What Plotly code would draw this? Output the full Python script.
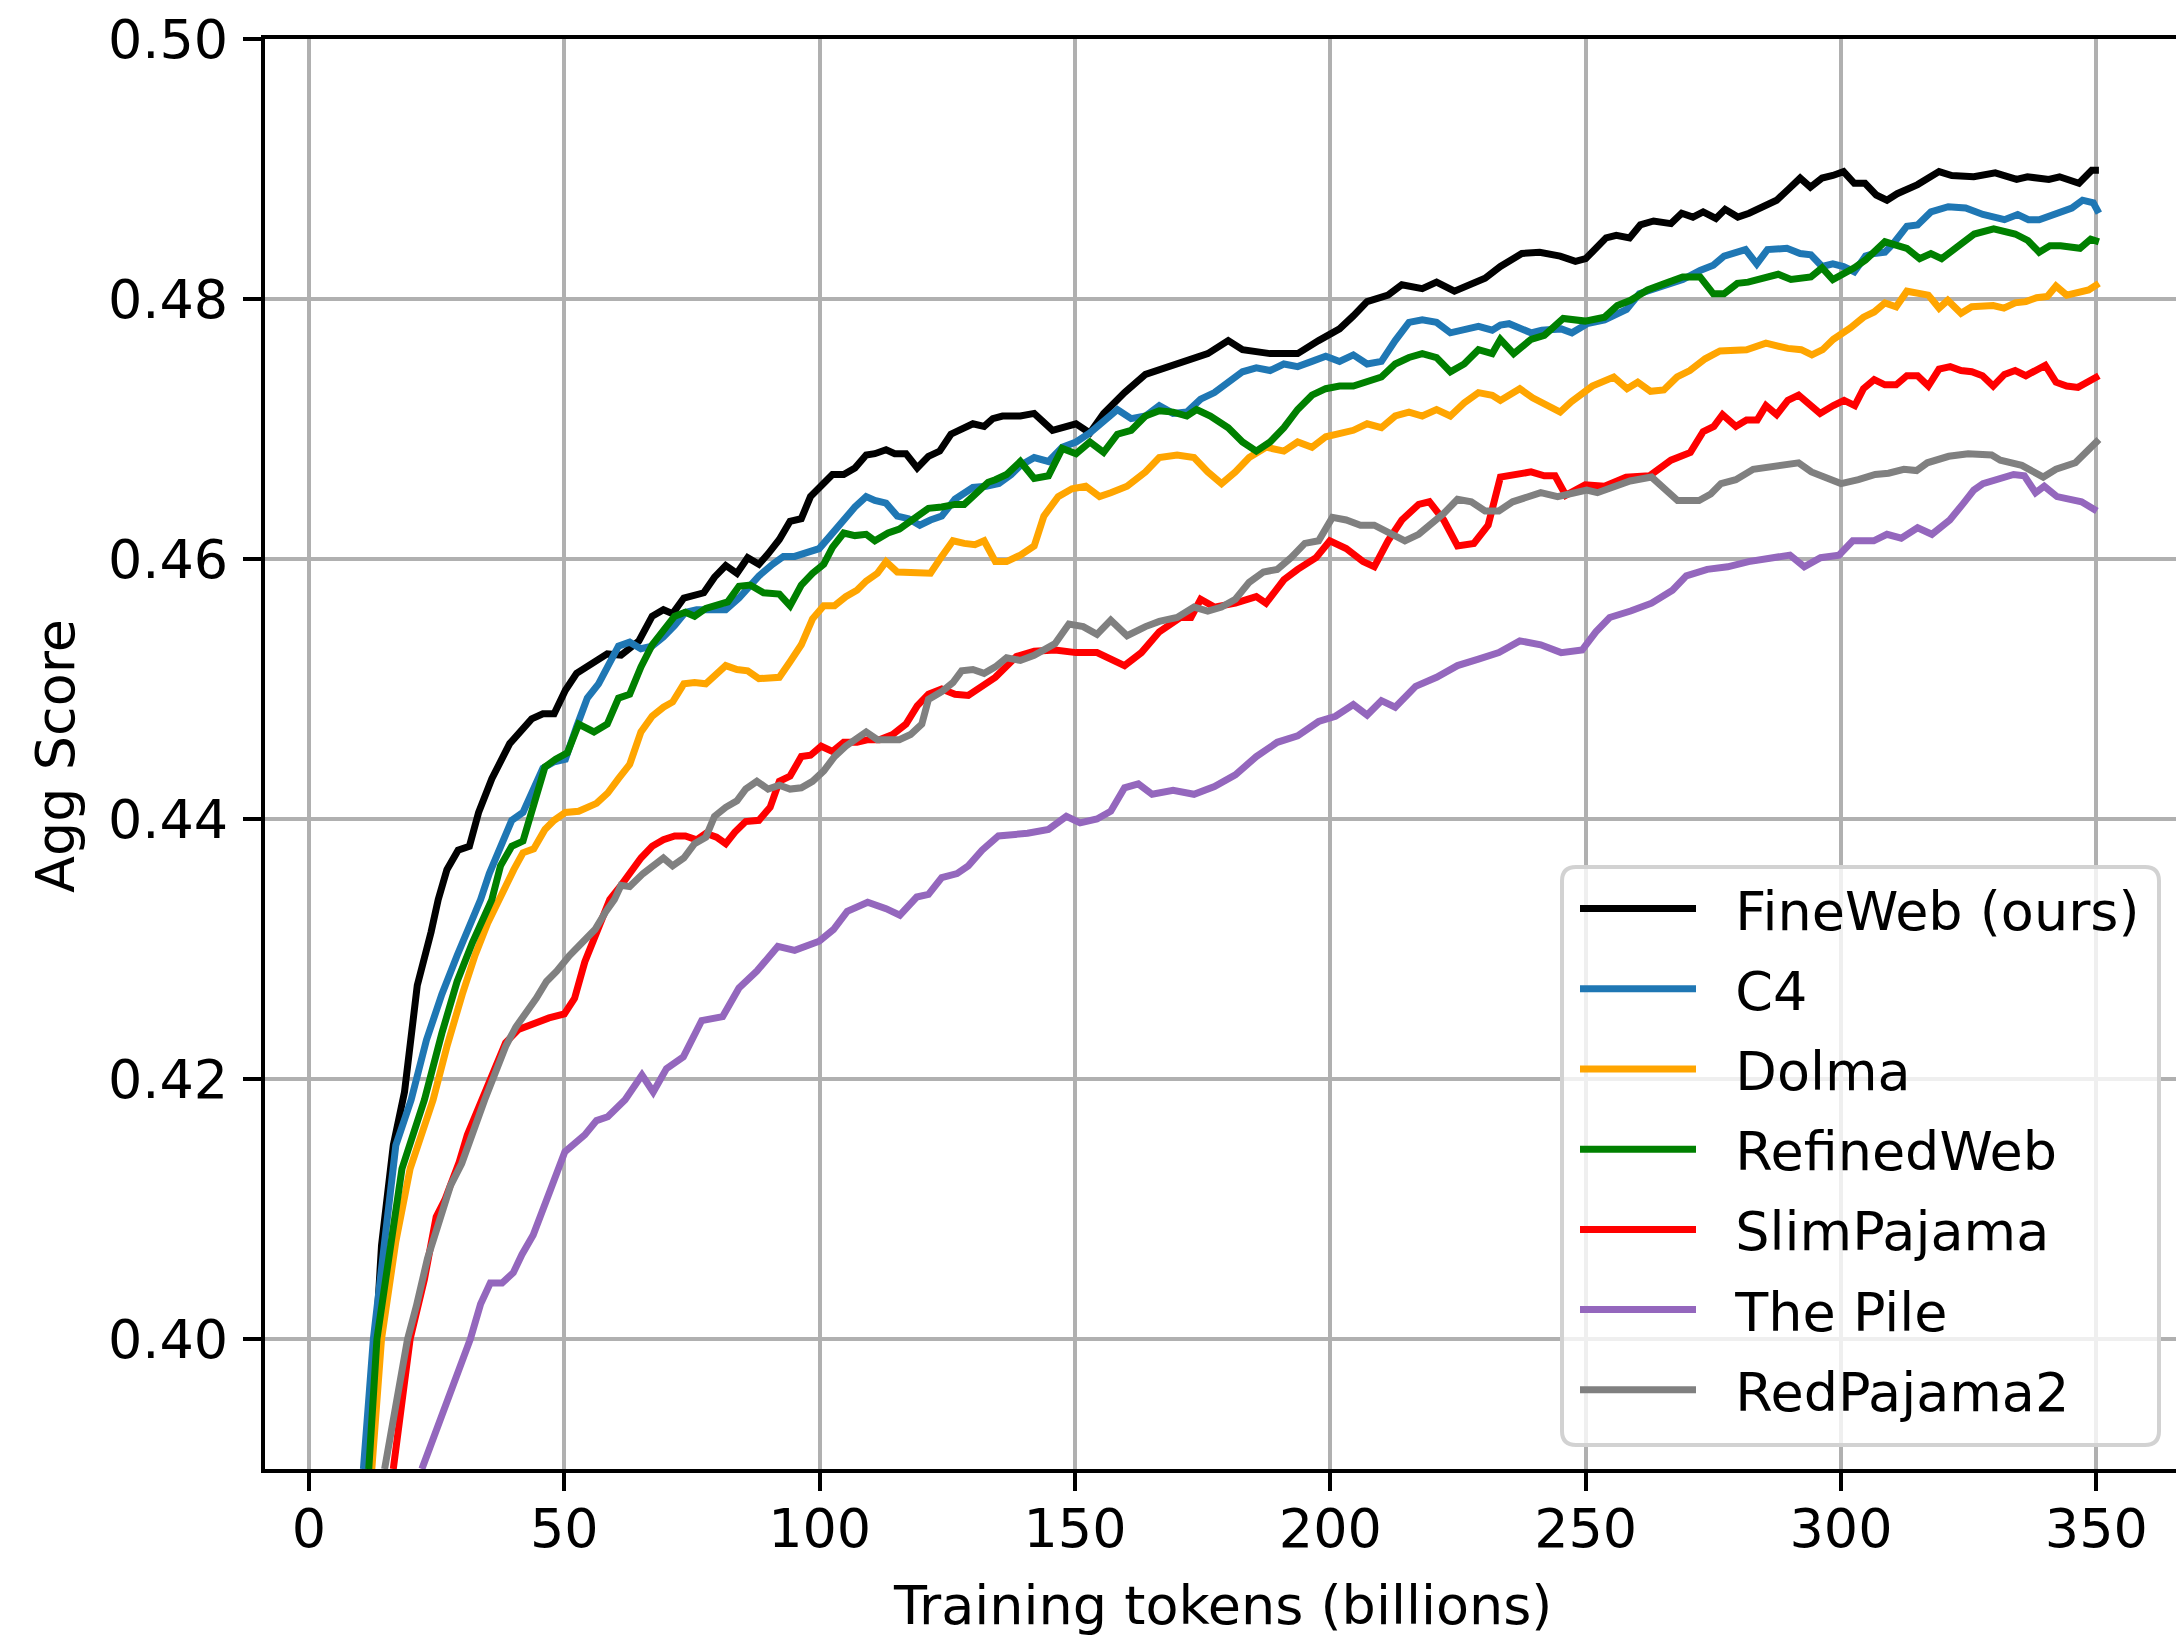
import plotly.graph_objects as go

# ---------------- data ----------------
FW_X = [11.0, 13.1, 14.2, 16.5, 18.7, 21.2, 23.9, 25.3, 27.0, 29.2, 31.4, 33.2, 35.8, 39.3, 43.6, 45.8, 48.0, 50.2, 52.4, 55.8,
        58.4, 61.1, 64.6, 67.2, 69.4, 71.2, 73.4, 77.3, 79.4, 81.6, 83.8, 85.9, 88.1, 89.9, 92.1, 94.2, 96.4, 98.2, 100.3, 102.5,
        104.7, 106.9, 109.1, 110.8, 113.0, 114.7, 116.9, 119.1, 121.3, 123.5, 125.7, 128.3, 130.0, 132.2, 133.9, 135.8, 139.3, 142.0, 145.6, 150.2,
        152.9, 155.6, 159.7, 163.8, 167.8, 171.9, 176.0, 180.0, 182.8, 188.2, 193.6, 197.7, 201.8, 204.5, 207.2, 211.3, 214.0, 218.0, 220.8, 224.3,
        227.6, 230.3, 233.3, 237.5, 241.0, 245.0, 248.0, 250.0, 254.0, 256.0, 258.6, 260.7, 263.3, 266.7, 268.8, 271.0, 273.0, 275.5, 277.3, 279.8,
        282.0, 284.5, 287.4, 289.6, 292.0, 294.0, 296.3, 298.4, 300.5, 302.6, 304.7, 306.9, 309.0, 311.0, 315.0, 319.2, 321.7, 326.0, 330.2, 334.4,
        336.5, 340.7, 342.8, 346.6, 349.1, 350.5]
FW_Y = [0.3900, 0.4000, 0.4072, 0.4149, 0.4190, 0.4272, 0.4313, 0.4338, 0.4361, 0.4376, 0.4379, 0.4405, 0.4431, 0.4458, 0.4477, 0.4481, 0.4481, 0.4499, 0.4512, 0.4520,
        0.4527, 0.4526, 0.4537, 0.4556, 0.4561, 0.4558, 0.4570, 0.4574, 0.4586, 0.4595, 0.4589, 0.4601, 0.4596, 0.4604, 0.4615, 0.4629, 0.4631, 0.4648, 0.4656, 0.4665,
        0.4665, 0.4670, 0.4680, 0.4681, 0.4684, 0.4681, 0.4681, 0.4670, 0.4679, 0.4683, 0.4696, 0.4701, 0.4704, 0.4702, 0.4708, 0.4710, 0.4710, 0.4712, 0.4699, 0.4704,
        0.4697, 0.4712, 0.4728, 0.4742, 0.4747, 0.4752, 0.4758, 0.4768, 0.4761, 0.4758, 0.4758, 0.4768, 0.4777, 0.4787, 0.4798, 0.4803, 0.4811, 0.4808, 0.4813, 0.4806,
        0.4811, 0.4816, 0.4825, 0.4835, 0.4836, 0.4833, 0.4829, 0.4831, 0.4847, 0.4849, 0.4847, 0.4857, 0.4860, 0.4858, 0.4866, 0.4863, 0.4867, 0.4862, 0.4869, 0.4863,
        0.4866, 0.4871, 0.4876, 0.4884, 0.4893, 0.4886, 0.4893, 0.4895, 0.4898, 0.4889, 0.4889, 0.4880, 0.4876, 0.4881, 0.4888, 0.4898, 0.4895, 0.4894, 0.4897, 0.4892,
        0.4894, 0.4892, 0.4894, 0.4889, 0.4899, 0.4899]

C4_X = [10.65, 12.6, 17.0, 20.0, 23.0, 26.0, 29.0, 31.5, 33.6, 35.3, 37.1, 39.7, 41.9, 44.0, 45.8, 48.0, 50.2, 52.4, 54.5, 56.7,
        58.9, 60.6, 62.8, 65.0, 67.2, 69.4, 71.6, 73.7, 75.9, 77.7, 79.8, 81.6, 84.2, 86.4, 88.1, 90.8, 92.9, 95.1, 97.7, 99.9,
        102.1, 104.7, 106.9, 109.1, 110.8, 113.0, 115.2, 117.4, 119.6, 121.7, 123.9, 126.5, 130.0, 132.6, 135.1, 137.5, 139.3, 142.0, 144.8, 147.5,
        150.2, 152.9, 155.6, 158.3, 161.0, 163.8, 166.5, 169.2, 171.9, 174.6, 177.3, 180.0, 182.8, 185.5, 188.2, 190.9, 193.6, 196.4, 199.1, 201.8,
        204.5, 207.2, 210.0, 212.7, 215.4, 218.0, 220.8, 223.5, 226.2, 229.0, 231.7, 233.3, 235.0, 239.3, 241.4, 245.2, 247.3, 250.3, 253.7, 258.0,
        260.5, 263.1, 266.5, 269.0, 272.4, 275.0, 277.1, 281.3, 283.5, 285.6, 289.4, 292.0, 294.1, 296.3, 298.4, 300.5, 302.6, 304.8, 306.5, 308.6,
        310.3, 312.9, 315.0, 317.6, 321.0, 324.4, 327.8, 330.3, 332.0, 334.6, 336.7, 338.8, 341.4, 343.9, 345.2, 347.3, 349.4, 350.5]
C4_Y = [0.3900, 0.4000, 0.4149, 0.4184, 0.4230, 0.4265, 0.4295, 0.4318, 0.4338, 0.4358, 0.4374, 0.4399, 0.4405, 0.4424, 0.4439, 0.4444, 0.4446, 0.4471, 0.4493, 0.4504,
        0.4520, 0.4533, 0.4536, 0.4531, 0.4533, 0.4540, 0.4549, 0.4559, 0.4561, 0.4561, 0.4562, 0.4561, 0.4570, 0.4580, 0.4587, 0.4596, 0.4602, 0.4602, 0.4605, 0.4608,
        0.4618, 0.4631, 0.4640, 0.4648, 0.4645, 0.4643, 0.4633, 0.4631, 0.4626, 0.4630, 0.4633, 0.4646, 0.4655, 0.4656, 0.4658, 0.4665, 0.4672, 0.4678, 0.4675, 0.4686,
        0.4690, 0.4697, 0.4706, 0.4715, 0.4708, 0.4710, 0.4718, 0.4712, 0.4713, 0.4723, 0.4728, 0.4736, 0.4744, 0.4747, 0.4745, 0.4750, 0.4748, 0.4752, 0.4756, 0.4752,
        0.4757, 0.4750, 0.4752, 0.4768, 0.4782, 0.4784, 0.4782, 0.4774, 0.4776, 0.4779, 0.4776, 0.4780, 0.4781, 0.4774, 0.4776, 0.4777, 0.4774, 0.4781, 0.4784, 0.4792,
        0.4804, 0.4807, 0.4811, 0.4815, 0.4822, 0.4826, 0.4833, 0.4838, 0.4827, 0.4838, 0.4839, 0.4835, 0.4834, 0.4825, 0.4827, 0.4825, 0.4821, 0.4833, 0.4835, 0.4836,
        0.4843, 0.4856, 0.4857, 0.4867, 0.4871, 0.4870, 0.4865, 0.4862, 0.4861, 0.4865, 0.4861, 0.4861, 0.4865, 0.4869, 0.4870, 0.4876, 0.4874, 0.4866]

DOLMA_X = [12.3, 14.2, 17.0, 19.8, 24.3, 27.0, 30.0, 32.5, 35.0, 37.1, 38.4, 40.1, 41.9, 44.0, 46.2, 48.0, 50.2, 52.8, 56.3, 58.5,
           60.6, 62.8, 65.0, 67.2, 69.4, 71.2, 73.4, 75.5, 77.7, 79.8, 81.6, 83.8, 85.9, 88.1, 89.9, 92.1, 94.2, 96.4, 98.6, 100.8,
           102.9, 105.1, 107.3, 109.1, 111.3, 113.0, 115.2, 117.4, 119.6, 121.7, 123.9, 126.1, 128.3, 130.4, 132.2, 134.4, 136.6, 139.3, 142.0, 143.9,
           146.7, 149.4, 152.1, 154.8, 157.0, 160.2, 163.8, 166.5, 170.0, 173.3, 176.0, 178.7, 181.4, 184.1, 187.4, 190.9, 193.6, 196.4, 199.1, 201.8,
           204.5, 207.2, 210.0, 212.7, 215.4, 218.0, 220.8, 223.5, 226.2, 229.0, 231.7, 233.3, 237.1, 239.6, 245.0, 247.2, 251.3, 255.5, 258.1, 260.2,
           262.7, 265.3, 267.9, 270.4, 273.4, 276.3, 281.5, 285.3, 289.6, 292.2, 294.3, 296.4, 298.5, 301.9, 304.4, 306.5, 308.6, 310.8, 312.9, 317.1,
           319.2, 320.9, 323.5, 325.6, 329.8, 331.9, 334.1, 336.2, 338.3, 340.4, 342.1, 344.2, 346.4, 348.5, 350.5]
DOLMA_Y = [0.3900, 0.4000, 0.4075, 0.4131, 0.4184, 0.4225, 0.4265, 0.4295, 0.4320, 0.4338, 0.4348, 0.4361, 0.4374, 0.4377, 0.4392, 0.4399, 0.4405, 0.4406, 0.4412, 0.4420,
           0.4431, 0.4442, 0.4467, 0.4479, 0.4486, 0.4490, 0.4504, 0.4505, 0.4504, 0.4512, 0.4518, 0.4515, 0.4514, 0.4508, 0.4508, 0.4509, 0.4521, 0.4534, 0.4554, 0.4564,
           0.4564, 0.4571, 0.4576, 0.4583, 0.4589, 0.4598, 0.4590, 0.4590, 0.4590, 0.4589, 0.4602, 0.4614, 0.4612, 0.4611, 0.4614, 0.4598, 0.4598, 0.4603, 0.4610, 0.4633,
           0.4648, 0.4654, 0.4656, 0.4648, 0.4651, 0.4656, 0.4667, 0.4678, 0.4680, 0.4678, 0.4667, 0.4658, 0.4667, 0.4678, 0.4686, 0.4683, 0.4690, 0.4686, 0.4694, 0.4696,
           0.4699, 0.4704, 0.4701, 0.4710, 0.4713, 0.4710, 0.4715, 0.4710, 0.4720, 0.4728, 0.4726, 0.4722, 0.4731, 0.4724, 0.4713, 0.4721, 0.4733, 0.4740, 0.4731, 0.4736,
           0.4729, 0.4730, 0.4740, 0.4745, 0.4754, 0.4760, 0.4761, 0.4766, 0.4762, 0.4761, 0.4757, 0.4761, 0.4769, 0.4778, 0.4786, 0.4790, 0.4797, 0.4794, 0.4806, 0.4803,
           0.4793, 0.4799, 0.4789, 0.4794, 0.4795, 0.4793, 0.4797, 0.4798, 0.4801, 0.4802, 0.4810, 0.4803, 0.4805, 0.4807, 0.4812]

RW_X = [11.7, 13.3, 18.2, 22.6, 26.0, 29.0, 32.0, 34.0, 35.8, 37.5, 39.7, 41.9, 44.0, 46.2, 48.3, 50.6, 52.8, 55.8, 58.4, 60.6,
        62.8, 65.0, 67.2, 69.4, 71.6, 73.7, 75.5, 77.7, 79.8, 82.0, 84.2, 86.4, 89.0, 92.1, 94.2, 96.4, 98.6, 100.8, 102.5, 104.7,
        106.9, 109.1, 110.8, 113.4, 115.6, 117.8, 121.3, 123.9, 126.5, 128.3, 130.4, 133.0, 134.4, 136.6, 139.3, 142.0, 144.8, 147.5, 150.2, 152.9,
        155.6, 158.3, 161.0, 163.8, 166.5, 169.2, 171.9, 173.8, 176.5, 180.0, 182.8, 185.5, 188.2, 190.9, 193.6, 196.4, 199.1, 201.8, 204.5, 207.2,
        210.0, 212.7, 215.4, 218.0, 220.8, 223.5, 226.2, 229.0, 231.7, 233.3, 235.9, 239.3, 241.9, 245.6, 249.9, 253.7, 256.2, 258.8, 262.1, 265.6,
        269.0, 272.4, 275.0, 277.1, 279.7, 281.8, 284.3, 287.7, 290.2, 294.1, 296.3, 298.4, 302.6, 304.8, 308.6, 312.9, 315.4, 317.6, 319.7, 323.5,
        326.1, 329.9, 334.1, 336.6, 338.8, 340.9, 343.0, 346.8, 348.9, 350.5]
RW_Y = [0.3900, 0.4000, 0.4131, 0.4184, 0.4235, 0.4275, 0.4305, 0.4322, 0.4338, 0.4364, 0.4379, 0.4383, 0.4411, 0.4440, 0.4446, 0.4451, 0.4473, 0.4467, 0.4473, 0.4493,
        0.4496, 0.4517, 0.4534, 0.4546, 0.4556, 0.4559, 0.4556, 0.4562, 0.4564, 0.4567, 0.4579, 0.4580, 0.4574, 0.4573, 0.4564, 0.4580, 0.4589, 0.4596, 0.4609, 0.4620,
        0.4618, 0.4619, 0.4614, 0.4620, 0.4623, 0.4629, 0.4639, 0.4640, 0.4642, 0.4642, 0.4649, 0.4659, 0.4661, 0.4665, 0.4675, 0.4662, 0.4664, 0.4685, 0.4681, 0.4690,
        0.4682, 0.4696, 0.4699, 0.4710, 0.4714, 0.4713, 0.4710, 0.4715, 0.4710, 0.4701, 0.4690, 0.4683, 0.4690, 0.4701, 0.4715, 0.4726, 0.4731, 0.4733, 0.4733, 0.4736,
        0.4740, 0.4750, 0.4755, 0.4758, 0.4755, 0.4744, 0.4750, 0.4761, 0.4758, 0.4769, 0.4758, 0.4769, 0.4772, 0.4785, 0.4783, 0.4786, 0.4795, 0.4799, 0.4807, 0.4812,
        0.4817, 0.4817, 0.4804, 0.4804, 0.4812, 0.4813, 0.4816, 0.4819, 0.4815, 0.4817, 0.4824, 0.4815, 0.4824, 0.4830, 0.4844, 0.4839, 0.4831, 0.4835, 0.4831, 0.4842,
        0.4850, 0.4854, 0.4850, 0.4845, 0.4836, 0.4841, 0.4841, 0.4839, 0.4846, 0.4844]

SP_X = [16.5, 19.8, 22.6, 24.9, 26.6, 29.4, 31.0, 33.9, 36.0, 38.5, 41.0, 44.0, 47.0, 50.0, 52.0, 54.0, 56.0, 57.5, 58.9, 61.1,
        62.8, 65.0, 67.2, 69.4, 71.6, 73.7, 75.9, 77.7, 79.8, 81.6, 83.4, 85.5, 88.1, 90.3, 92.1, 94.2, 96.4, 98.2, 100.3, 102.5,
        104.7, 107.3, 109.5, 111.7, 114.3, 116.9, 119.1, 121.3, 123.9, 126.5, 129.1, 131.8, 134.4, 138.5, 142.0, 146.1, 150.2, 154.3, 157.0, 159.7,
        163.0, 166.5, 170.6, 172.7, 174.6, 177.3, 181.4, 185.5, 187.4, 190.9, 193.6, 197.2, 199.9, 203.1, 206.4, 208.6, 211.3, 214.0, 217.3, 219.4,
        222.2, 224.9, 228.1, 230.9, 233.3, 235.0, 239.3, 241.9, 244.0, 246.1, 249.9, 253.7, 257.9, 262.5, 266.7, 270.5, 273.0, 275.1, 276.8, 279.4,
        281.5, 283.6, 285.3, 287.4, 289.6, 291.7, 293.8, 295.9, 298.5, 300.6, 302.7, 304.4, 306.5, 308.6, 310.8, 312.9, 315.0, 317.1, 319.2, 321.4,
        323.5, 325.6, 327.7, 329.8, 332.0, 334.1, 336.2, 340.0, 342.1, 344.2, 346.4, 348.5, 350.5]
SP_Y = [0.3900, 0.4000, 0.4046, 0.4094, 0.4107, 0.4136, 0.4157, 0.4184, 0.4205, 0.4228, 0.4238, 0.4243, 0.4247, 0.4250, 0.4262, 0.4290, 0.4310, 0.4325, 0.4338, 0.4349,
        0.4358, 0.4370, 0.4379, 0.4384, 0.4387, 0.4387, 0.4384, 0.4389, 0.4386, 0.4381, 0.4390, 0.4398, 0.4399, 0.4409, 0.4429, 0.4433, 0.4448, 0.4449, 0.4456, 0.4452,
        0.4459, 0.4459, 0.4461, 0.4461, 0.4465, 0.4473, 0.4487, 0.4496, 0.4500, 0.4496, 0.4495, 0.4502, 0.4509, 0.4525, 0.4529, 0.4530, 0.4528, 0.4528, 0.4523, 0.4518,
        0.4528, 0.4544, 0.4555, 0.4555, 0.4569, 0.4563, 0.4566, 0.4571, 0.4566, 0.4584, 0.4592, 0.4601, 0.4614, 0.4608, 0.4598, 0.4594, 0.4614, 0.4630, 0.4642, 0.4644,
        0.4630, 0.4610, 0.4612, 0.4626, 0.4663, 0.4664, 0.4667, 0.4664, 0.4664, 0.4649, 0.4657, 0.4656, 0.4663, 0.4664, 0.4676, 0.4682, 0.4698, 0.4702, 0.4711, 0.4702,
        0.4707, 0.4707, 0.4718, 0.4711, 0.4722, 0.4726, 0.4719, 0.4712, 0.4718, 0.4722, 0.4718, 0.4731, 0.4738, 0.4734, 0.4734, 0.4741, 0.4741, 0.4733, 0.4746, 0.4748,
        0.4745, 0.4744, 0.4741, 0.4733, 0.4742, 0.4745, 0.4741, 0.4749, 0.4736, 0.4733, 0.4732, 0.4737, 0.4741]

PILE_X = [22.1, 27.1, 29.4, 31.6, 33.6, 35.5, 37.8, 40.0, 41.7, 43.9, 47.3, 50.1, 54.0, 56.3, 58.5, 61.9, 65.2, 67.4, 70.0, 73.3,
          76.9, 81.0, 84.2, 87.7, 91.8, 95.1, 99.9, 102.7, 105.4, 109.4, 113.0, 115.7, 119.0, 121.3, 123.9, 126.9, 129.1, 131.8, 135.0, 140.7,
          144.8, 148.3, 151.0, 154.3, 157.0, 159.7, 162.4, 165.1, 169.2, 173.3, 177.3, 181.4, 185.5, 189.6, 193.6, 197.7, 201.0, 204.5, 207.2, 210.0,
          212.7, 216.7, 220.8, 224.9, 229.0, 233.0, 237.1, 241.2, 245.2, 249.3, 252.0, 254.7, 258.8, 262.9, 267.0, 269.7, 273.8, 277.8, 281.9, 286.0,
          290.0, 292.8, 296.0, 299.6, 302.3, 306.4, 309.0, 311.8, 315.0, 317.8, 321.3, 324.0, 326.0, 327.8, 333.8, 335.9, 338.1, 339.8, 342.3, 347.1,
          350.1]
PILE_Y = [0.3900, 0.3953, 0.3977, 0.4000, 0.4027, 0.4043, 0.4043, 0.4051, 0.4065, 0.4080, 0.4115, 0.4144, 0.4157, 0.4168, 0.4171, 0.4184, 0.4203, 0.4190, 0.4208, 0.4217,
          0.4245, 0.4248, 0.4270, 0.4283, 0.4302, 0.4299, 0.4306, 0.4315, 0.4329, 0.4336, 0.4331, 0.4326, 0.4340, 0.4342, 0.4355, 0.4358, 0.4364, 0.4376, 0.4387, 0.4389,
          0.4392, 0.4402, 0.4397, 0.4400, 0.4406, 0.4424, 0.4427, 0.4419, 0.4422, 0.4419, 0.4425, 0.4434, 0.4448, 0.4459, 0.4464, 0.4475, 0.4479, 0.4488, 0.4480, 0.4491,
          0.4486, 0.4502, 0.4509, 0.4518, 0.4523, 0.4528, 0.4537, 0.4534, 0.4528, 0.4530, 0.4544, 0.4555, 0.4560, 0.4566, 0.4576, 0.4587, 0.4592, 0.4594, 0.4598, 0.4601,
          0.4603, 0.4594, 0.4601, 0.4603, 0.4614, 0.4614, 0.4619, 0.4616, 0.4624, 0.4619, 0.4630, 0.4643, 0.4653, 0.4658, 0.4665, 0.4664, 0.4651, 0.4656, 0.4648, 0.4644,
          0.4637]

RP2_X = [14.8, 19.3, 21.0, 23.2, 24.9, 27.7, 29.9, 31.6, 33.3, 34.4, 36.5, 38.5, 40.5, 42.5, 44.5, 46.5, 48.5, 51.0, 53.5, 56.0,
         58.0, 59.8, 61.1, 62.8, 65.4, 68.1, 69.4, 71.2, 73.4, 75.5, 77.7, 79.4, 81.6, 83.8, 85.5, 87.7, 89.9, 92.1, 94.2, 96.4,
         98.6, 100.8, 102.9, 105.1, 107.3, 109.1, 111.3, 113.4, 115.6, 117.8, 120.0, 121.3, 123.9, 126.1, 127.8, 130.0, 132.2, 134.4, 136.6, 139.3,
         142.0, 146.1, 148.8, 151.6, 154.3, 157.0, 160.2, 163.8, 166.5, 170.0, 173.3, 176.0, 178.7, 181.4, 184.1, 186.9, 189.6, 192.3, 195.0, 197.7,
         200.4, 203.1, 205.9, 208.6, 211.3, 214.6, 217.3, 219.4, 222.2, 224.9, 227.6, 230.3, 233.0, 235.7, 238.5, 241.2, 244.5, 250.2, 252.3, 256.2,
         258.7, 262.9, 266.3, 268.0, 272.2, 274.5, 276.5, 279.4, 282.8, 286.6, 290.0, 291.7, 294.2, 296.7, 300.0, 303.4, 306.7, 309.3, 312.3, 314.8,
         316.9, 321.1, 324.9, 329.5, 331.2, 335.4, 339.6, 342.1, 345.9, 350.5]
RP2_Y = [0.3900, 0.4000, 0.4025, 0.4062, 0.4083, 0.4118, 0.4135, 0.4155, 0.4173, 0.4184, 0.4205, 0.4225, 0.4240, 0.4250, 0.4262, 0.4275, 0.4283, 0.4295, 0.4305, 0.4315,
         0.4328, 0.4338, 0.4349, 0.4348, 0.4358, 0.4367, 0.4370, 0.4364, 0.4370, 0.4381, 0.4386, 0.4402, 0.4409, 0.4414, 0.4423, 0.4429, 0.4423, 0.4426, 0.4423, 0.4424,
         0.4429, 0.4437, 0.4448, 0.4456, 0.4462, 0.4467, 0.4461, 0.4461, 0.4461, 0.4465, 0.4473, 0.4492, 0.4498, 0.4505, 0.4514, 0.4515, 0.4512, 0.4517, 0.4524, 0.4522,
         0.4526, 0.4535, 0.4550, 0.4548, 0.4542, 0.4553, 0.4541, 0.4548, 0.4552, 0.4555, 0.4563, 0.4560, 0.4563, 0.4569, 0.4582, 0.4590, 0.4592, 0.4601, 0.4612, 0.4614,
         0.4632, 0.4630, 0.4626, 0.4626, 0.4621, 0.4614, 0.4619, 0.4626, 0.4635, 0.4646, 0.4644, 0.4637, 0.4637, 0.4644, 0.4648, 0.4651, 0.4648, 0.4653, 0.4651, 0.4656,
         0.4660, 0.4663, 0.4650, 0.4645, 0.4645, 0.4650, 0.4658, 0.4661, 0.4669, 0.4671, 0.4674, 0.4674, 0.4667, 0.4663, 0.4658, 0.4661, 0.4665, 0.4666, 0.4669, 0.4668,
         0.4674, 0.4679, 0.4681, 0.4680, 0.4676, 0.4672, 0.4663, 0.4669, 0.4674, 0.4692]

SERIES = [
    ("FineWeb (ours)", FW_X, FW_Y, "#000000"),
    ("C4", C4_X, C4_Y, "#1f77b4"),
    ("Dolma", DOLMA_X, DOLMA_Y, "#ffa500"),
    ("RefinedWeb", RW_X, RW_Y, "#008000"),
    ("SlimPajama", SP_X, SP_Y, "#ff0000"),
    ("The Pile", PILE_X, PILE_Y, "#9467bd"),
    ("RedPajama2", RP2_X, RP2_Y, "#808080"),
]

X_TICKS = [0, 50, 100, 150, 200, 250, 300, 350]
Y_TICKS = [0.40, 0.42, 0.44, 0.46, 0.48, 0.50]
X_LABEL = "Training tokens (billions)"
Y_LABEL = "Agg Score"

# ---------------- figure ----------------
W, H = 2176, 1641
ML, MR, MT, MB = 265, 0, 39, 172
PW, PH = W - ML - MR, H - MT - MB
FS = 54
FONT = "DejaVu Sans, Verdana, sans-serif"


def px_x(p):
    return (p - ML) / PW


def px_y(p):
    return (H - MB - p) / PH


fig = go.Figure()
for i, (name, xs, ys, col) in enumerate(SERIES):
    fig.add_trace(go.Scatter(x=xs, y=ys, mode="lines", name="\u00a0\u00a0" + name,
                             legendgroup="g%d" % i,
                             line=dict(color=col, width=7)))

# legend frame (rounded, semi-transparent, drawn above the lines)
bx0, bx1, by0, by1, r = 1562, 2159, 867, 1445, 14
X0, X1 = px_x(bx0), px_x(bx1)
YT, YB = px_y(by0), px_y(by1)
rx, ry = r / PW, r / PH
frame_path = (f"M {X0+rx},{YT} L {X1-rx},{YT} Q {X1},{YT} {X1},{YT-ry} "
              f"L {X1},{YB+ry} Q {X1},{YB} {X1-rx},{YB} "
              f"L {X0+rx},{YB} Q {X0},{YB} {X0},{YB+ry} "
              f"L {X0},{YT-ry} Q {X0},{YT} {X0+rx},{YT} Z")

fig.update_layout(
    width=W, height=H,
    margin=dict(l=ML, r=MR, t=MT, b=MB, pad=0),
    paper_bgcolor="white", plot_bgcolor="white",
    font=dict(family=FONT, size=FS, color="black"),
    showlegend=True,
    legend=dict(x=px_x(1575), y=px_y(867),
                xanchor="left", yanchor="top",
                bgcolor="rgba(0,0,0,0)", borderwidth=0,
                font=dict(family=FONT, size=FS, color="black"),
                traceorder="grouped", tracegroupgap=7, itemwidth=116),
    shapes=[dict(type="path", path=frame_path, xref="paper", yref="paper", layer="above",
                 fillcolor="rgba(255,255,255,0.8)", line=dict(color="#d2d2d2", width=4))],
    xaxis=dict(range=[-8.62, 365.6], tickvals=X_TICKS, ticktext=[str(v) for v in X_TICKS],
               showgrid=True, gridcolor="#b0b0b0", gridwidth=4, zeroline=False,
               showline=True, linecolor="black", linewidth=4, mirror=True,
               ticks="outside", ticklen=18, tickwidth=4, tickcolor="black",
               ticklabelstandoff=-9,
               tickfont=dict(family=FONT, size=FS, color="black")),
    yaxis=dict(range=[0.390, 0.500], tickvals=Y_TICKS, ticktext=["%.2f" % v for v in Y_TICKS],
               showgrid=True, gridcolor="#b0b0b0", gridwidth=4, zeroline=False,
               showline=True, linecolor="black", linewidth=4, mirror=False,
               ticks="outside", ticklen=18, tickwidth=4, tickcolor="black",
               ticklabelstandoff=4,
               tickfont=dict(family=FONT, size=FS, color="black")),
    annotations=[
        dict(text=X_LABEL, xref="paper", yref="paper",
             x=px_x(1222), y=px_y(1605),
             xanchor="center", yanchor="middle", showarrow=False,
             font=dict(family=FONT, size=FS, color="black")),
        dict(text=Y_LABEL, xref="paper", yref="paper",
             x=px_x(55), y=px_y(756),
             xanchor="center", yanchor="middle", showarrow=False, textangle=-90,
             font=dict(family=FONT, size=FS, color="black")),
    ],
)

fig.write_html("out.html")
